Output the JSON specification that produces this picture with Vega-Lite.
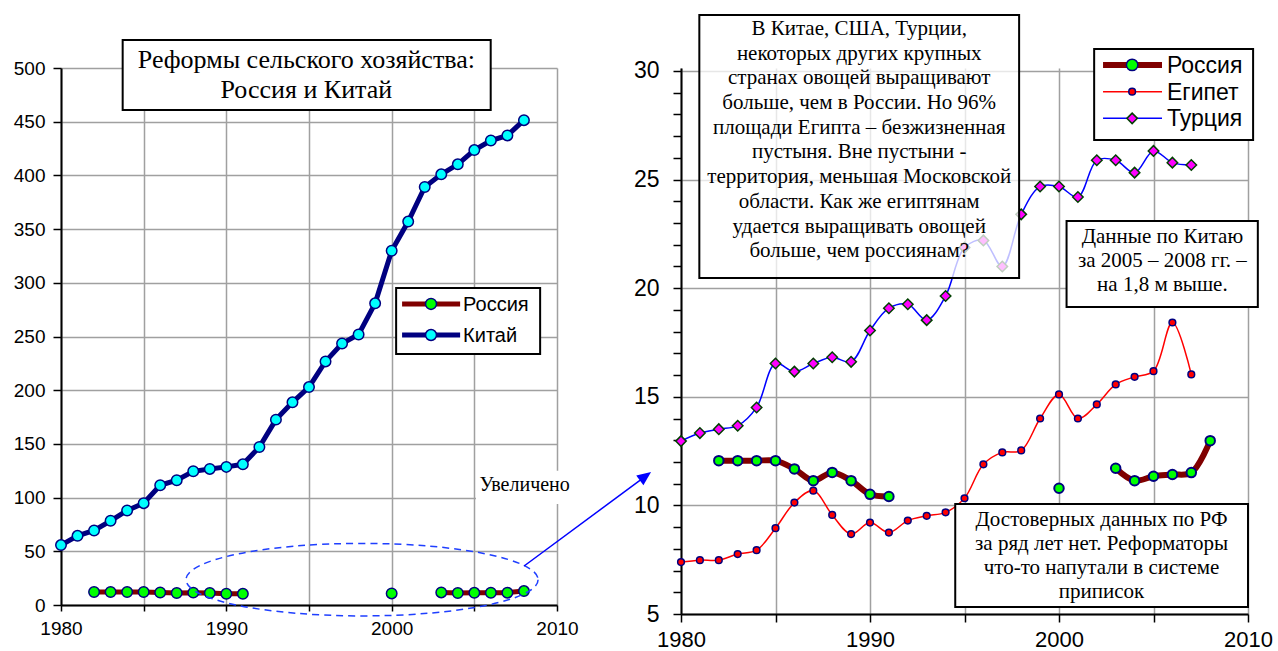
{
  "$schema": "https://vega.github.io/schema/vega-lite/v6.json",
  "background": "white",
  "padding": {"left": 13, "top": 13, "right": 5, "bottom": 2},
  "autosize": {"type": "pad"},
  "bounds": "flush",
  "spacing": 124,
  "resolve": {"scale": {"x": "independent", "y": "independent"}},
  "datasets": {
    "china": [
      {"year": 1980, "value": 55.8}, {"year": 1981, "value": 64.4}, {"year": 1982, "value": 69.4},
      {"year": 1983, "value": 78.4}, {"year": 1984, "value": 88.0}, {"year": 1985, "value": 94.8},
      {"year": 1986, "value": 111.5}, {"year": 1987, "value": 116.2}, {"year": 1988, "value": 124.5},
      {"year": 1989, "value": 126.7}, {"year": 1990, "value": 128.6}, {"year": 1991, "value": 131.0},
      {"year": 1992, "value": 147.1}, {"year": 1993, "value": 172.6}, {"year": 1994, "value": 188.7},
      {"year": 1995, "value": 202.9}, {"year": 1996, "value": 226.8}, {"year": 1997, "value": 243.5},
      {"year": 1998, "value": 251.9}, {"year": 1999, "value": 280.9}, {"year": 2000, "value": 329.8},
      {"year": 2001, "value": 357.0}, {"year": 2002, "value": 389.2}, {"year": 2003, "value": 401.0},
      {"year": 2004, "value": 410.3}, {"year": 2005, "value": 423.6}, {"year": 2006, "value": 432.5},
      {"year": 2007, "value": 437.2}, {"year": 2008, "value": 451.4}
    ],
    "russia": [
      {"year": 1982, "value": 12.06, "seg": 1}, {"year": 1983, "value": 12.06, "seg": 1},
      {"year": 1984, "value": 12.06, "seg": 1}, {"year": 1985, "value": 12.06, "seg": 1},
      {"year": 1986, "value": 11.68, "seg": 1}, {"year": 1987, "value": 11.14, "seg": 1},
      {"year": 1988, "value": 11.52, "seg": 1}, {"year": 1989, "value": 11.14, "seg": 1},
      {"year": 1990, "value": 10.51, "seg": 1}, {"year": 1991, "value": 10.41, "seg": 1},
      {"year": 2000, "value": 10.79, "seg": 2},
      {"year": 2003, "value": 11.71, "seg": 3}, {"year": 2004, "value": 11.14, "seg": 3},
      {"year": 2005, "value": 11.34, "seg": 3}, {"year": 2006, "value": 11.42, "seg": 3},
      {"year": 2007, "value": 11.51, "seg": 3}, {"year": 2008, "value": 12.98, "seg": 3}
    ],
    "egypt": [
      {"year": 1980, "value": 7.39}, {"year": 1981, "value": 7.48}, {"year": 1982, "value": 7.48},
      {"year": 1983, "value": 7.76}, {"year": 1984, "value": 7.94}, {"year": 1985, "value": 8.95},
      {"year": 1986, "value": 10.13}, {"year": 1987, "value": 10.68}, {"year": 1988, "value": 9.56},
      {"year": 1989, "value": 8.68}, {"year": 1990, "value": 9.21}, {"year": 1991, "value": 8.75},
      {"year": 1992, "value": 9.30}, {"year": 1993, "value": 9.52}, {"year": 1994, "value": 9.68},
      {"year": 1995, "value": 10.33}, {"year": 1996, "value": 11.89}, {"year": 1997, "value": 12.44},
      {"year": 1998, "value": 12.53}, {"year": 1999, "value": 14.0}, {"year": 2000, "value": 15.11},
      {"year": 2001, "value": 14.0}, {"year": 2002, "value": 14.65}, {"year": 2003, "value": 15.57},
      {"year": 2004, "value": 15.92}, {"year": 2005, "value": 16.18}, {"year": 2006, "value": 18.42},
      {"year": 2007, "value": 16.03}
    ],
    "turkey": [
      {"year": 1980, "value": 12.96}, {"year": 1981, "value": 13.33}, {"year": 1982, "value": 13.51},
      {"year": 1983, "value": 13.67}, {"year": 1984, "value": 14.51}, {"year": 1985, "value": 16.53},
      {"year": 1986, "value": 16.16}, {"year": 1987, "value": 16.53}, {"year": 1988, "value": 16.82},
      {"year": 1989, "value": 16.61}, {"year": 1990, "value": 18.05}, {"year": 1991, "value": 19.08},
      {"year": 1992, "value": 19.26}, {"year": 1993, "value": 18.53}, {"year": 1994, "value": 19.64},
      {"year": 1995, "value": 21.87}, {"year": 1996, "value": 22.2}, {"year": 1997, "value": 21.0},
      {"year": 1998, "value": 23.4}, {"year": 1999, "value": 24.68}, {"year": 2000, "value": 24.68},
      {"year": 2001, "value": 24.2}, {"year": 2002, "value": 25.89}, {"year": 2003, "value": 25.89},
      {"year": 2004, "value": 25.32}, {"year": 2005, "value": 26.32}, {"year": 2006, "value": 25.78},
      {"year": 2007, "value": 25.67}
    ]
  },
  "hconcat": [
    {
      "width": 496,
      "height": 537,
      "data": {"values": [{}]},
      "layer": [
        {
          "data": {"name": "russia"},
          "mark": {"type": "line", "color": "#800000", "strokeWidth": 5},
          "encoding": {
            "x": {"field": "year", "type": "quantitative",
              "scale": {"domain": [1980, 2010], "nice": false, "zero": false},
              "axis": {"values": [1980, 1985, 1990, 1995, 2000, 2005, 2010], "format": "d", "tickCount": 20,
                "labelExpr": "datum.value % 10 === 0 ? datum.label : ''", "title": null,
                "labelOverlap": false, "labelFlush": false,
                "tickSize": 6, "labelPadding": 8, "labelFontSize": 19, "grid": true}},
            "y": {"field": "value", "type": "quantitative",
              "scale": {"domain": [0, 500], "nice": false, "zero": false},
              "axis": {"values": [0, 50, 100, 150, 200, 250, 300, 350, 400, 450, 500], "format": "d", "title": null, "tickCount": 20,
                "labelOverlap": false,
                "tickSize": 8, "labelPadding": 8, "labelFontSize": 19, "grid": true}},
            "detail": {"field": "seg", "type": "nominal"}
          }
        },
        {
          "data": {"name": "russia"},
          "mark": {"type": "point", "shape": "circle", "filled": true, "fill": "#00FF00", "stroke": "#000080", "strokeWidth": 1.5, "size": 110, "opacity": 1},
          "encoding": {"x": {"field": "year", "type": "quantitative"}, "y": {"field": "value", "type": "quantitative"}}
        },
        {
          "data": {"name": "china"},
          "mark": {"type": "line", "color": "#000080", "strokeWidth": 5},
          "encoding": {"x": {"field": "year", "type": "quantitative"}, "y": {"field": "value", "type": "quantitative"}}
        },
        {
          "data": {"name": "china"},
          "mark": {"type": "point", "shape": "circle", "filled": true, "fill": "#00FFFF", "stroke": "#000080", "strokeWidth": 1.5, "size": 110, "opacity": 1},
          "encoding": {"x": {"field": "year", "type": "quantitative"}, "y": {"field": "value", "type": "quantitative"}}
        },
        {
          "mark": {"type": "rect", "fill": "#FFFFFF", "stroke": "#000000", "strokeWidth": 2},
          "encoding": {"x": {"datum": 1983.73, "type": "quantitative"}, "x2": {"datum": 2005.99},
            "y": {"datum": 526.1, "type": "quantitative"}, "y2": {"datum": 460.9}}
        },
        {
          "mark": {"type": "text", "font": "Liberation Serif", "fontSize": 26, "align": "center", "baseline": "alphabetic", "lineHeight": 30, "color": "#000000",
            "text": ["Реформы сельского хозяйства:", "Россия и Китай"]},
          "encoding": {"x": {"datum": 1994.84, "type": "quantitative"}, "y": {"datum": 500.3, "type": "quantitative"}}
        },
        {
          "mark": {"type": "rect", "fill": "#FFFFFF", "stroke": "#000000", "strokeWidth": 2},
          "encoding": {"x": {"datum": 2000.27, "type": "quantitative"}, "x2": {"datum": 2008.98},
            "y": {"datum": 295.2, "type": "quantitative"}, "y2": {"datum": 233.7}}
        },
        {
          "mark": {"type": "rule", "color": "#800000", "strokeWidth": 5},
          "encoding": {"x": {"datum": 2000.63, "type": "quantitative"}, "x2": {"datum": 2004.14},
            "y": {"datum": 280.3, "type": "quantitative"}}
        },
        {
          "mark": {"type": "point", "shape": "circle", "filled": true, "fill": "#00FF00", "stroke": "#000080", "strokeWidth": 1.5, "size": 120, "opacity": 1},
          "encoding": {"x": {"datum": 2002.38, "type": "quantitative"}, "y": {"datum": 280.3, "type": "quantitative"}}
        },
        {
          "mark": {"type": "rule", "color": "#000080", "strokeWidth": 5},
          "encoding": {"x": {"datum": 2000.63, "type": "quantitative"}, "x2": {"datum": 2004.14},
            "y": {"datum": 251.4, "type": "quantitative"}}
        },
        {
          "mark": {"type": "point", "shape": "circle", "filled": true, "fill": "#00FFFF", "stroke": "#000080", "strokeWidth": 1.5, "size": 120, "opacity": 1},
          "encoding": {"x": {"datum": 2002.38, "type": "quantitative"}, "y": {"datum": 251.4, "type": "quantitative"}}
        },
        {
          "mark": {"type": "text", "font": "Liberation Sans", "fontSize": 20, "align": "left", "baseline": "alphabetic", "lineHeight": 31, "color": "#000000",
            "text": ["Россия", "Китай"]},
          "encoding": {"x": {"datum": 2004.32, "type": "quantitative"}, "y": {"datum": 273.6, "type": "quantitative"}}
        },
        {
          "mark": {"type": "rect", "fill": "#FFFFFF", "stroke": null},
          "encoding": {"x": {"datum": 2005.1, "type": "quantitative"}, "x2": {"datum": 2011.0},
            "y": {"datum": 125, "type": "quantitative"}, "y2": {"datum": 94}}
        },
        {
          "mark": {"type": "text", "font": "Liberation Serif", "fontSize": 20, "align": "center", "baseline": "alphabetic", "color": "#000000", "text": "Увеличено"},
          "encoding": {"x": {"datum": 2008.04, "type": "quantitative"}, "y": {"datum": 106.1, "type": "quantitative"}}
        },
        {
          "mark": {"type": "point", "shape": "M 1 0 C 1 0.1138 0.5523 0.206 0 0.206 C -0.5523 0.206 -1 0.1138 -1 0 C -1 -0.1138 -0.5523 -0.206 0 -0.206 C 0.5523 -0.206 1 -0.1138 1 0 Z",
            "size": 123904, "filled": false, "stroke": "#1f3fff", "strokeWidth": 1.5, "strokeDash": [7, 5], "opacity": 1},
          "encoding": {"x": {"datum": 1998.21, "type": "quantitative"}, "y": {"datum": 23.6, "type": "quantitative"}}
        },
        {
          "mark": {"type": "rule", "color": "#0000FF", "strokeWidth": 1.5},
          "encoding": {"x": {"datum": 2008.01, "type": "quantitative"}, "x2": {"datum": 2015.3},
            "y": {"datum": 36.3, "type": "quantitative"}, "y2": {"datum": 119.3}}
        },
        {
          "mark": {"type": "point", "shape": "M 0 0 L 0.43 1 L -0.43 1 Z", "size": 784, "angle": 53.5, "filled": true, "color": "#0000FF", "opacity": 1},
          "encoding": {"x": {"datum": 2015.69, "type": "quantitative"}, "y": {"datum": 123.8, "type": "quantitative"}}
        }
      ]
    },
    {
      "width": 567,
      "height": 546,
      "data": {"values": [{}]},
      "layer": [
        {
          "data": {"name": "russia"},
          "mark": {"type": "line", "color": "#800000", "strokeWidth": 6, "interpolate": "catmull-rom"},
          "encoding": {
            "x": {"field": "year", "type": "quantitative",
              "scale": {"domain": [1980, 2010], "nice": false, "zero": false},
              "axis": {"values": [1980, 1985, 1990, 1995, 2000, 2005, 2010], "format": "d", "tickCount": 20,
                "labelExpr": "datum.value % 10 === 0 ? datum.label : ''", "title": null,
                "labelOverlap": false, "labelFlush": false,
                "tickSize": 8, "labelPadding": 7, "labelFontSize": 22, "grid": true}},
            "y": {"field": "value", "type": "quantitative",
              "scale": {"domain": [5, 30.138], "nice": false, "zero": false},
              "axis": {"values": [5, 6, 7, 8, 9, 10, 11, 12, 13, 14, 15, 16, 17, 18, 19, 20, 21, 22, 23, 24, 25, 26, 27, 28, 29, 30],
                "tickCount": 40, "format": "d",
                "labelExpr": "(datum.value % 5 == 0) ? datum.label : ''", "title": null,
                "labelOverlap": false,
                "gridOpacity": {"condition": {"test": "datum.value % 5 == 0", "value": 1}, "value": 0},
                "tickSize": 8, "labelPadding": 14, "labelFontSize": 23, "grid": true}},
            "detail": {"field": "seg", "type": "nominal"}
          }
        },
        {
          "data": {"name": "russia"},
          "mark": {"type": "point", "shape": "circle", "filled": true, "fill": "#00FF00", "stroke": "#000080", "strokeWidth": 2, "size": 90, "opacity": 1},
          "encoding": {"x": {"field": "year", "type": "quantitative"}, "y": {"field": "value", "type": "quantitative"}}
        },
        {
          "data": {"name": "egypt"},
          "mark": {"type": "line", "color": "#FF0000", "strokeWidth": 1.5, "interpolate": "catmull-rom"},
          "encoding": {"x": {"field": "year", "type": "quantitative"}, "y": {"field": "value", "type": "quantitative"}}
        },
        {
          "data": {"name": "egypt"},
          "mark": {"type": "point", "shape": "circle", "filled": true, "fill": "#FF0000", "stroke": "#000080", "strokeWidth": 1.5, "size": 45, "opacity": 1},
          "encoding": {"x": {"field": "year", "type": "quantitative"}, "y": {"field": "value", "type": "quantitative"}}
        },
        {
          "data": {"name": "turkey"},
          "mark": {"type": "line", "color": "#0000FF", "strokeWidth": 1.5, "interpolate": "catmull-rom"},
          "encoding": {"x": {"field": "year", "type": "quantitative"}, "y": {"field": "value", "type": "quantitative"}}
        },
        {
          "data": {"name": "turkey"},
          "mark": {"type": "point", "shape": "diamond", "filled": true, "fill": "#FF00FF", "stroke": "#004000", "strokeWidth": 1.5, "size": 110, "opacity": 1},
          "encoding": {"x": {"field": "year", "type": "quantitative"}, "y": {"field": "value", "type": "quantitative"}}
        },
        {
          "mark": {"type": "rect", "fill": "#FFFFFF", "fillOpacity": 0.75, "stroke": "#000000", "strokeWidth": 2},
          "encoding": {"x": {"datum": 1980.97, "type": "quantitative"}, "x2": {"datum": 1997.89},
            "y": {"datum": 32.58, "type": "quantitative"}, "y2": {"datum": 20.47}}
        },
        {
          "mark": {"type": "text", "font": "Liberation Serif", "fontSize": 21, "align": "center", "baseline": "alphabetic", "lineHeight": 24.7, "color": "#000000",
            "text": ["В Китае, США, Турции,", "некоторых других крупных", "странах овощей выращивают", "больше, чем в России. Но 96%", "площади Египта – безжизненная", "пустыня. Вне пустыни  -", "территория, меньшая Московской", "области. Как же египтянам", "удается выращивать овощей", "больше, чем россиянам?"]},
          "encoding": {"x": {"datum": 1989.43, "type": "quantitative"}, "y": {"datum": 31.66, "type": "quantitative"}}
        },
        {
          "mark": {"type": "rect", "fill": "#FFFFFF", "stroke": "#000000", "strokeWidth": 2},
          "encoding": {"x": {"datum": 2000.4, "type": "quantitative"}, "x2": {"datum": 2010.52},
            "y": {"datum": 23.09, "type": "quantitative"}, "y2": {"datum": 19.14}}
        },
        {
          "mark": {"type": "text", "font": "Liberation Serif", "fontSize": 21, "align": "center", "baseline": "alphabetic", "lineHeight": 24.2, "color": "#000000",
            "text": ["Данные по Китаю", "за 2005 – 2008 гг. –", "на 1,8 м  выше."]},
          "encoding": {"x": {"datum": 2005.47, "type": "quantitative"}, "y": {"datum": 22.09, "type": "quantitative"}}
        },
        {
          "mark": {"type": "rect", "fill": "#FFFFFF", "stroke": "#000000", "strokeWidth": 2},
          "encoding": {"x": {"datum": 1994.51, "type": "quantitative"}, "x2": {"datum": 2010.0},
            "y": {"datum": 10.07, "type": "quantitative"}, "y2": {"datum": 5.32}}
        },
        {
          "mark": {"type": "text", "font": "Liberation Serif", "fontSize": 21, "align": "center", "baseline": "alphabetic", "lineHeight": 23.9, "color": "#000000",
            "text": ["Достоверных  данных по РФ", "за ряд лет нет. Реформаторы", "что-то напутали в системе", "приписок"]},
          "encoding": {"x": {"datum": 2002.25, "type": "quantitative"}, "y": {"datum": 9.04, "type": "quantitative"}}
        },
        {
          "mark": {"type": "rect", "fill": "#FFFFFF", "stroke": "#000000", "strokeWidth": 2},
          "encoding": {"x": {"datum": 2001.86, "type": "quantitative"}, "x2": {"datum": 2010.27},
            "y": {"datum": 31.01, "type": "quantitative"}, "y2": {"datum": 26.82}}
        },
        {
          "mark": {"type": "rule", "color": "#800000", "strokeWidth": 6},
          "encoding": {"x": {"datum": 2002.33, "type": "quantitative"}, "x2": {"datum": 2005.45},
            "y": {"datum": 30.28, "type": "quantitative"}}
        },
        {
          "mark": {"type": "point", "shape": "circle", "filled": true, "fill": "#00FF00", "stroke": "#000080", "strokeWidth": 1.5, "size": 130, "opacity": 1},
          "encoding": {"x": {"datum": 2003.87, "type": "quantitative"}, "y": {"datum": 30.28, "type": "quantitative"}}
        },
        {
          "mark": {"type": "rule", "color": "#FF0000", "strokeWidth": 1.5},
          "encoding": {"x": {"datum": 2002.33, "type": "quantitative"}, "x2": {"datum": 2005.45},
            "y": {"datum": 29.05, "type": "quantitative"}}
        },
        {
          "mark": {"type": "point", "shape": "circle", "filled": true, "fill": "#FF0000", "stroke": "#000080", "strokeWidth": 1.5, "size": 45, "opacity": 1},
          "encoding": {"x": {"datum": 2003.87, "type": "quantitative"}, "y": {"datum": 29.05, "type": "quantitative"}}
        },
        {
          "mark": {"type": "rule", "color": "#0000FF", "strokeWidth": 1.5},
          "encoding": {"x": {"datum": 2002.33, "type": "quantitative"}, "x2": {"datum": 2005.45},
            "y": {"datum": 27.82, "type": "quantitative"}}
        },
        {
          "mark": {"type": "point", "shape": "diamond", "filled": true, "fill": "#FF00FF", "stroke": "#004000", "strokeWidth": 1.5, "size": 110, "opacity": 1},
          "encoding": {"x": {"datum": 2003.87, "type": "quantitative"}, "y": {"datum": 27.82, "type": "quantitative"}}
        },
        {
          "mark": {"type": "text", "font": "Liberation Sans", "fontSize": 23, "align": "left", "baseline": "alphabetic", "lineHeight": 26.65, "color": "#000000",
            "text": ["Россия", "Египет", "Турция"]},
          "encoding": {"x": {"datum": 2005.71, "type": "quantitative"}, "y": {"datum": 29.9, "type": "quantitative"}}
        }
      ]
    }
  ],
  "config": {
    "view": {"stroke": null},
    "axis": {
      "domainColor": "#000000", "domainWidth": 2, "tickColor": "#000000", "tickWidth": 1.5,
      "gridColor": "#a0a0a0", "gridWidth": 1.5, "labelColor": "#000000", "labelFont": "Liberation Sans",
      "labelFlush": false, "labelOverlap": false
    }
  }
}
